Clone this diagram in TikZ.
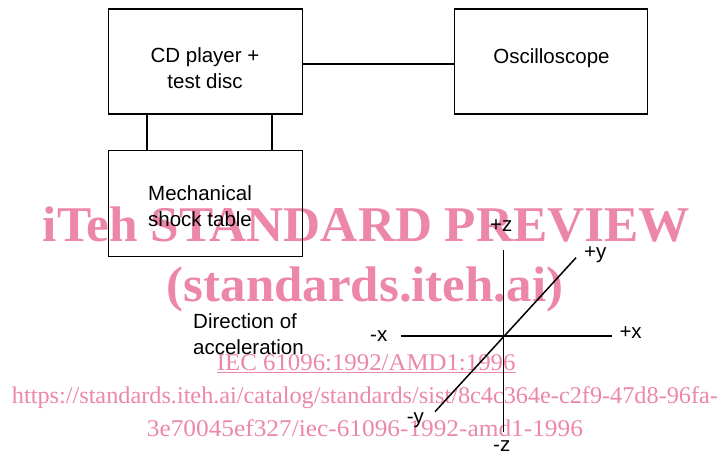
\documentclass[tikz,border=0pt]{standalone}
\usepackage{fontspec}
\setmainfont{Liberation Sans}
\newfontfamily\wmfont{Liberation Serif}
\usepackage{graphicx}
\definecolor{wm}{RGB}{236,135,167}
\begin{document}
\begin{tikzpicture}[x=1pt,y=-1pt,
  box/.style={draw, line width=1.4pt, minimum width=194pt, minimum height=105pt, inner sep=0pt, anchor=north west},
  lbl/.style={font=\fontsize{20.5}{24}\selectfont, inner sep=0pt},
  wmA/.style={font=\wmfont\bfseries\fontsize{50}{60}\selectfont, text=wm, inner sep=0pt, anchor=base west},
  wmB/.style={font=\wmfont\fontsize{24}{28}\selectfont, text=wm, inner sep=0pt, anchor=base west},
  conn/.style={line width=1.4pt},
  axis/.style={line width=1.5pt}]
\useasboundingbox (0,0) rectangle (721,456);
% watermark
\node[wmA] (w1) at (42.7,241.7) {\resizebox{647.3pt}{\height}{iTeh STANDARD PREVIEW}};
\node[wmA] (w2) at (166.7,301) {\resizebox{396.3pt}{\height}{(standards.iteh.ai)}};
\node[wmB] (w3) at (216.7,370.7) {\resizebox{298.6pt}{\height}{\underline{IEC 61096:1992/AMD1:1996}}};
\node[wmB] (w4) at (11.7,403) {\resizebox{706pt}{\height}{https://standards.iteh.ai/catalog/standards/sist/8c4c364e-c2f9-47d8-96fa-}};
\node[wmB] (w5) at (146.7,436.7) {\resizebox{436pt}{\height}{3e70045ef327/iec-61096-1992-amd1-1996}};
% boxes
\node[box] (cd) at (108,8.3) {};
\node[box, minimum height=106pt] (shock) at (108,150) {};
\node[box, minimum width=193pt] (osc) at (454,8.3) {};
% connectors
\draw[conn] ([xshift=39pt]cd.south west) -- ([xshift=39pt]shock.north west);
\draw[conn] ([xshift=164pt]cd.south west) -- ([xshift=164pt]shock.north west);
\draw[conn] ([yshift=-2.5pt]cd.east) -- ([yshift=-2.5pt]osc.west);
% texts
\node[lbl, anchor=base] (t1) at (205,62) {CD player +};
\node[lbl, anchor=base] (t2) at (205,88) {test disc};
\node[lbl, anchor=base] (t3) at (551.5,63.3) {Oscilloscope};
\node[lbl, anchor=base west] (t4) at (148,200) {Mechanical};
\node[lbl, anchor=base west] (t5) at (148,226.7) {shock table};
\node[lbl, anchor=base west] (t6) at (193,328) {Direction of};
\node[lbl, anchor=base west] (t7) at (193,354) {acceleration};
% axes
\coordinate (zt) at (503.3,250);
\coordinate (zb) at (503.3,431.7);
\coordinate (xl) at (400.7,336);
\coordinate (xr) at (612.3,336);
\coordinate (yl) at (435,411.7);
\coordinate (yu) at (576,257.7);
\draw[axis] (zt) -- (zb);
\draw[axis] (xl) -- (xr);
\draw[axis] (yl) -- (yu);
\node[lbl, anchor=base west] (pz) at (490,231.7) {+z};
\node[lbl, anchor=base west] (py) at (584,258) {+y};
\node[lbl, anchor=base west] (mx) at (370,341.7) {-x};
\node[lbl, anchor=base west] (px) at (619.3,338.3) {+x};
\node[lbl, anchor=base west] (my) at (406.7,423) {-y};
\node[lbl, anchor=base west] (mz) at (493,451.7) {-z};
\end{tikzpicture}
\end{document}
